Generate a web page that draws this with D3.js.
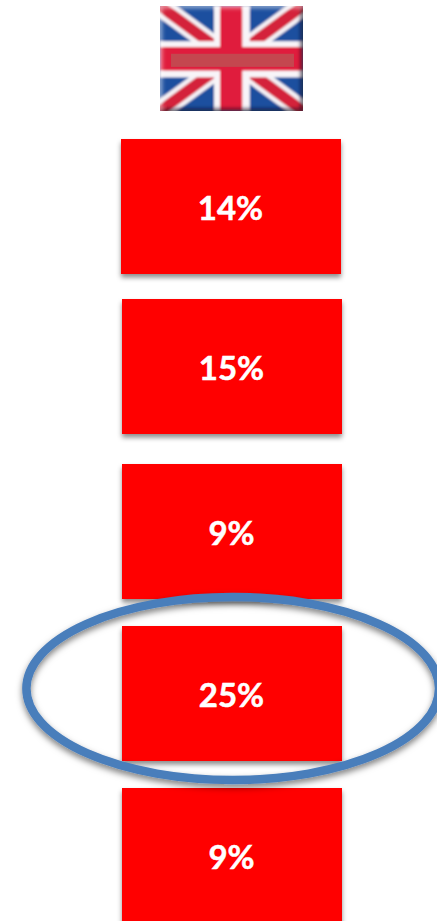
<!DOCTYPE html>
<html>
<head>
<meta charset="utf-8">
<script src="https://cdn.jsdelivr.net/npm/d3@7/dist/d3.min.js"></script>
<style>
html,body{margin:0;padding:0;background:#fff;overflow:hidden}
svg{display:block}
</style>
</head>
<body>
<script>
// Survey shares shown as one tile per row
const rows = ["a", "b", "c", "d", "e"];
const shares = [14, 15, 9, 25, 9];
const highlightedRow = "d";

const width = 437, height = 921;
const tileW = 220, tileH = 135;

const yTop = d3.scaleOrdinal().domain(rows).range([139, 299, 464, 626, 788]);
const xLeft = d3.scaleOrdinal().domain(rows).range([121, 122, 122, 122, 122]);

const svg = d3.select("body").append("svg").attr("width", width).attr("height", height);
const defs = svg.append("defs");

const shadow = defs.append("filter").attr("id", "soft-shadow")
  .attr("x", "-10%").attr("y", "-10%").attr("width", "120%").attr("height", "125%");
shadow.append("feDropShadow").attr("dx", 0).attr("dy", 3.5).attr("stdDeviation", 2.6)
  .attr("flood-color", "#000").attr("flood-opacity", 0.45);

// Union flag, laid out on unit coordinates
const fx = d3.scaleLinear().domain([0, 1]).range([160, 303]);
const fy = d3.scaleLinear().domain([0, 1]).range([6, 111]);
const flagW = fx(1) - fx(0), flagH = fy(1) - fy(0);

defs.append("clipPath").attr("id", "flag-clip").append("rect")
  .attr("x", fx(0)).attr("y", fy(0)).attr("width", flagW).attr("height", flagH);
defs.append("filter").attr("id", "flag-blur").append("feGaussianBlur").attr("stdDeviation", 0.9);
defs.append("filter").attr("id", "edge-blur").append("feGaussianBlur").attr("stdDeviation", 2.2);

const flag = svg.append("g").attr("clip-path", "url(#flag-clip)");
const art = flag.append("g").attr("filter", "url(#flag-blur)");
art.append("rect").attr("x", fx(0) - 4).attr("y", fy(0) - 4)
  .attr("width", flagW + 8).attr("height", flagH + 8).attr("fill", "#1f4f9f");

const diagonals = [[[0, 0], [1, 1]], [[1, 0], [0, 1]]];
const flagLine = d3.line().x(d => fx(d[0])).y(d => fy(d[1]));
art.selectAll(".diag-white").data(diagonals).join("path")
  .attr("d", flagLine).attr("stroke", "#f4f0f4").attr("stroke-width", 20).attr("fill", "none");
art.selectAll(".diag-red").data(diagonals).join("path")
  .attr("d", flagLine).attr("stroke", "#d4203a").attr("stroke-width", 11).attr("fill", "none");

// Cross: white fimbriation, then the red bars
art.append("rect").attr("x", fx(0.378)).attr("y", fy(0)).attr("width", flagW * 0.25).attr("height", flagH).attr("fill", "#f8f4f8");
art.append("rect").attr("x", fx(0)).attr("y", fy(0.335)).attr("width", flagW).attr("height", flagH * 0.345).attr("fill", "#f8f4f8");
art.append("rect").attr("x", fx(0.42)).attr("y", fy(0)).attr("width", flagW * 0.155).attr("height", flagH).attr("fill", "#e01a3c");
art.append("rect").attr("x", fx(0)).attr("y", fy(0.39)).attr("width", flagW).attr("height", flagH * 0.225).attr("fill", "#e01a3c");

// Bevelled edges: pale on the top and left, dark on the bottom and right
const edges = flag.append("g").attr("filter", "url(#edge-blur)").attr("fill", "none").attr("stroke-width", 4);
edges.append("path").attr("d", flagLine([[0, 1], [0, 0], [1, 0]])).attr("stroke", "#fff").attr("stroke-opacity", 0.6);
edges.append("path").attr("d", flagLine([[1, 0], [1, 1], [0, 1]])).attr("stroke", "#1a0a20").attr("stroke-opacity", 0.8);

flag.append("rect").attr("x", fx(0.077)).attr("y", fy(0.455)).attr("width", flagW * 0.86).attr("height", flagH * 0.125)
  .attr("fill", "#c4474f");

// Tiles are stacked in row order, each one over the previous shadow
const table = rows.map((r, i) => ({ row: r, share: shares[i] }));

const tile = svg.selectAll(".tile").data(table).join("g").attr("class", "tile");
tile.append("rect")
  .attr("x", d => xLeft(d.row)).attr("y", d => yTop(d.row))
  .attr("width", tileW).attr("height", tileH)
  .attr("fill", "#ff0000").attr("filter", "url(#soft-shadow)");
tile.append("text")
  .attr("x", d => xLeft(d.row) + tileW / 2 - 0.5)
  .attr("y", d => yTop(d.row) + tileH / 2 + 2)
  .attr("dy", "0.35em")
  .attr("text-anchor", "middle")
  .attr("font-family", "Lato, 'Open Sans', sans-serif")
  .attr("font-weight", 700)
  .attr("font-size", 33)
  .attr("stroke", "#fff")
  .attr("stroke-width", 0.5)
  .attr("fill", "#fff")
  .text(d => d.share + "%");

// Ring around the highlighted row
const ringShadow = defs.append("filter").attr("id", "ring-shadow")
  .attr("x", "-10%").attr("y", "-10%").attr("width", "120%").attr("height", "125%");
ringShadow.append("feDropShadow").attr("dx", 0).attr("dy", 3.5).attr("stdDeviation", 3.2)
  .attr("flood-color", "#000").attr("flood-opacity", 0.5);

svg.append("ellipse")
  .attr("cx", 232.7)
  .attr("cy", yTop(highlightedRow) + 62.5)
  .attr("rx", 206.3)
  .attr("ry", 91.5)
  .attr("fill", "none")
  .attr("stroke", "#4a7ebb")
  .attr("stroke-width", 8.5)
  .attr("filter", "url(#ring-shadow)");
</script>
</body>
</html>
